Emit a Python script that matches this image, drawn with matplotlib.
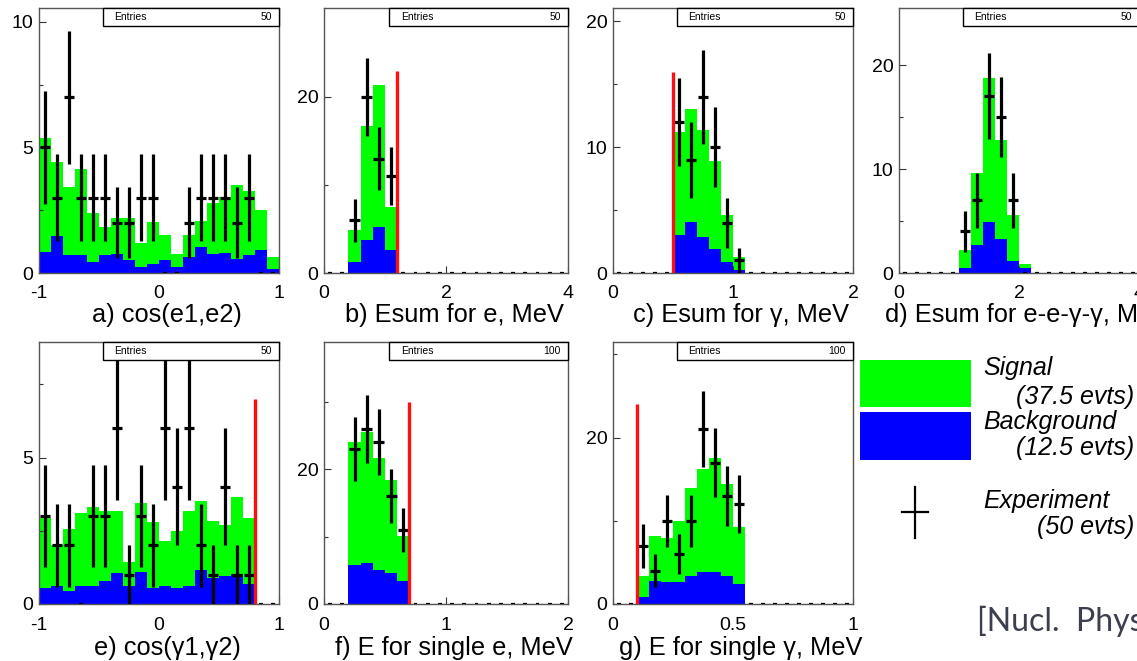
import numpy as np
import matplotlib
matplotlib.use('Agg')
import matplotlib.pyplot as plt
from matplotlib.patches import Rectangle

plt.rcParams['font.family'] = ['Liberation Sans', 'DejaVu Sans']

# ---------------- data ----------------
# a) cos(e1,e2): 20 bins of 0.1 from -1 to 1
a_edges0, a_bw = -1.0, 0.1
a_total = [5.39, 4.42, 3.43, 4.16, 2.39, 1.83, 2.17, 2.17, 1.2, 2.03,
           1.5, 0.77, 1.5, 2.07, 2.79, 3.03, 3.52, 3.27, 2.5, 0.64]
a_bg = [0.84, 1.46, 0.7, 0.7, 0.44, 0.7, 0.77, 0.5, 0.24, 0.37,
        0.5, 0.24, 0.64, 1.04, 0.77, 0.8, 0.57, 0.73, 0.93, 0.17]
a_data = [5, 3, 7, 3, 3, 3, 2, 2, 3, 3, 0, 0, 2, 3, 3, 3, 2, 3, 0, 0]

# b) Esum for e: 20 bins of 0.2 from 0 to 4
b_edges0, b_bw = 0.0, 0.2
b_total = [0, 0, 4.94, 16.65, 21.3, 7.45] + [0] * 14
b_bg = [0, 0, 1.2, 3.8, 5.25, 2.66] + [0] * 14
b_data = [0, 0, 6, 20, 13, 11] + [0] * 14
b_cut, b_cut_h = 1.2, 23

# c) Esum for gamma: 20 bins of 0.1 from 0 to 2
c_edges0, c_bw = 0.0, 0.1
c_total = [0] * 5 + [11.24, 13.04, 11.37, 8.92, 4.6, 1.27] + [0] * 9
c_bg = [0] * 5 + [3.05, 4.06, 2.87, 1.94, 0.88, 0.27] + [0] * 9
c_data = [0] * 5 + [12, 9, 14, 10, 4, 1] + [0] * 9
c_cut, c_cut_h = 0.5, 16

# d) Esum for e-e-g-g: 20 bins of 0.2 from 0 to 4
d_edges0, d_bw = 0.0, 0.2
d_total = [0] * 5 + [2.19, 9.66, 18.8, 12.8, 5.57, 0.9] + [0] * 9
d_bg = [0] * 5 + [0.48, 2.67, 4.93, 3.25, 1.13, 0.48] + [0] * 9
d_data = [0] * 5 + [4, 7, 17, 15, 7, 0] + [0] * 9

# e) cos(g1,g2): 20 bins of 0.1 from -1 to 1
e_edges0, e_bw = -1.0, 0.1
e_total = [2.93, 2.02, 2.57, 3.1, 3.3, 3.18, 3.18, 1.43, 3.44, 2.8,
           2.16, 2.48, 3.16, 3.52, 2.84, 2.7, 3.64, 2.93, 0, 0]
e_bg = [0.55, 0.63, 0.43, 0.6, 0.6, 0.77, 1.06, 0.6, 1.11, 0.55,
        0.6, 0.55, 0.6, 1.17, 0.89, 0.94, 1.02, 0.68, 0, 0]
e_data = [3, 2, 2, 0, 3, 3, 6, 1, 3, 2, 6, 4, 6, 2, 1, 4, 1, 1, 0, 0]
e_cut, e_cut_h = 0.8, 7

# f) E for single e: 20 bins of 0.1 from 0 to 2
f_edges0, f_bw = 0.0, 0.1
f_total = [0, 0, 24.06, 25.6, 21.7, 18.4, 10.1] + [0] * 13
f_bg = [0, 0, 5.84, 6.14, 5.1, 4.65, 3.42] + [0] * 13
f_data = [0, 0, 23, 26, 24, 16, 11] + [0] * 13
f_cut, f_cut_h = 0.7, 30

# g) E for single gamma: 20 bins of 0.05 from 0 to 1
g_edges0, g_bw = 0.0, 0.05
g_total = [0, 0, 3.32, 8.2, 7.92, 9.92, 14.0, 16.24, 17.52, 14.4, 9.28] + [0] * 9
g_bg = [0, 0, 0.8, 2.72, 2.6, 2.64, 3.4, 3.84, 3.8, 3.32, 2.4] + [0] * 9
g_data = [0, 0, 7, 4, 10, 6, 10, 21, 17, 13, 12] + [0] * 9
g_cut, g_cut_h = 0.1, 24

titles = ['a) cos(e1,e2)', 'b) Esum for e, MeV', 'c) Esum for γ, MeV',
          'd) Esum for e-e-γ-γ, MeV', 'e) cos(γ1,γ2)',
          'f) E for single e, MeV', 'g) E for single γ, MeV']
entries = [50, 50, 50, 50, 50, 100, 100]
legend_labels = ['Signal', '(37.5 evts)', 'Background', '(12.5 evts)',
                 'Experiment', '(50 evts)']

# ---------------- layout ----------------
W, H = 1137, 661
fig = plt.figure(figsize=(W / 100, H / 100), dpi=100)


def px_rect(l, t, r, b):
    return [l / W, 1 - b / H, (r - l) / W, (b - t) / H]


GREEN = '#00ff00'
BLUE = '#0000ff'

panels = [
    dict(pos=(39, 8, 279, 273), e0=a_edges0, bw=a_bw, tot=a_total, bg=a_bg, dat=a_data,
         cut=None, xlim=(-1, 1), ylim=(0, 10.55), xt=[-1, 0, 1], xtl=['-1', '0', '1'],
         yt=[0, 5, 10], ym=[2.5, 7.5]),
    dict(pos=(324, 8, 568, 273), e0=b_edges0, bw=b_bw, tot=b_total, bg=b_bg, dat=b_data,
         cut=(b_cut, b_cut_h), xlim=(0, 4), ylim=(0, 30.1), xt=[0, 2, 4], xtl=['0', '2', '4'],
         yt=[0, 20], ym=[10]),
    dict(pos=(613, 8, 853, 273), e0=c_edges0, bw=c_bw, tot=c_total, bg=c_bg, dat=c_data,
         cut=(c_cut, c_cut_h), xlim=(0, 2), ylim=(0, 21.06), xt=[0, 1, 2], xtl=['0', '1', '2'],
         yt=[0, 10, 20], ym=[5, 15]),
    dict(pos=(899, 8, 1139, 273), e0=d_edges0, bw=d_bw, tot=d_total, bg=d_bg, dat=d_data,
         cut=None, xlim=(0, 4), ylim=(0, 25.5), xt=[0, 2, 4], xtl=['0', '2', '4'],
         yt=[0, 10, 20], ym=[5, 15]),
    dict(pos=(39, 342, 279, 604), e0=e_edges0, bw=e_bw, tot=e_total, bg=e_bg, dat=e_data,
         cut=(e_cut, e_cut_h), xlim=(-1, 1), ylim=(0, 8.95), xt=[-1, 0, 1], xtl=['-1', '0', '1'],
         yt=[0, 5], ym=[2.5, 7.5]),
    dict(pos=(324, 342, 568, 604), e0=f_edges0, bw=f_bw, tot=f_total, bg=f_bg, dat=f_data,
         cut=(f_cut, f_cut_h), xlim=(0, 2), ylim=(0, 38.9), xt=[0, 1, 2], xtl=['0', '1', '2'],
         yt=[0, 20], ym=[10, 30]),
    dict(pos=(613, 342, 853, 604), e0=g_edges0, bw=g_bw, tot=g_total, bg=g_bg, dat=g_data,
         cut=(g_cut, g_cut_h), xlim=(0, 1), ylim=(0, 31.5), xt=[0, 0.5, 1], xtl=['0', '0.5', '1'],
         yt=[0, 20], ym=[10, 30]),
]

for i, p in enumerate(panels):
    l, t, r, b = p['pos']
    ax = fig.add_axes(px_rect(l, t, r, b))
    tot = np.array(p['tot'], float)
    bg = np.array(p['bg'], float)
    dat = np.array(p['dat'], float)
    n = len(dat)
    edges = p['e0'] + p['bw'] * np.arange(n + 1)
    centers = 0.5 * (edges[:-1] + edges[1:])

    ax.stairs(tot, edges, fill=True, color=GREEN, lw=0, zorder=1)
    ax.stairs(bg, edges, fill=True, color=BLUE, lw=0, zorder=2)
    ax.axhline(0, color='#4a5fc0', lw=0.8, zorder=2.5)

    nz = dat > 0
    ax.errorbar(centers[nz], dat[nz], xerr=0.45 * p['bw'], yerr=np.sqrt(dat[nz]),
                fmt='none', ecolor='black', elinewidth=2.3, capsize=0, zorder=4)
    ax.errorbar(centers[~nz], dat[~nz], xerr=0.16 * p['bw'],
                fmt='none', ecolor='black', elinewidth=1.6, capsize=0, zorder=4)

    if p['cut'] is not None:
        cx, ch = p['cut']
        ax.plot([cx, cx], [0, ch], color='#ff1010', lw=2.4, zorder=5, solid_capstyle='butt')

    ax.set_xlim(*p['xlim'])
    ax.set_ylim(*p['ylim'])
    ax.set_xticks(p['xt'])
    ax.set_xticklabels(p['xtl'])
    ax.set_yticks(p['yt'])
    ax.set_yticks(p['ym'], minor=True)
    ax.tick_params(axis='both', which='major', direction='in', length=5, width=0.8,
                   labelsize=14, color='#333333')
    ax.tick_params(axis='y', which='minor', direction='in', length=3, width=0.8, color='#333333')
    ax.tick_params(axis='x', which='major', pad=9)
    ax.tick_params(axis='y', which='major', pad=4)
    for s in ax.spines.values():
        s.set_color('#555555')
        s.set_linewidth(1.0)

    # stats box
    bx0 = 0.265
    bh = 18 / (b - t)
    ax.add_patch(Rectangle((bx0, 1 - bh), 1 - bx0, bh, transform=ax.transAxes,
                           facecolor='white', edgecolor='black', lw=1.0, zorder=10,
                           clip_on=False))
    ax.text(bx0 + 0.05, 1 - bh / 2, 'Entries', transform=ax.transAxes, fontsize=7.5,
            va='center', ha='left', zorder=11)
    ax.text(0.97, 1 - bh / 2, str(entries[i]), transform=ax.transAxes, fontsize=7.5,
            va='center', ha='right', zorder=11)

    ty = 315 if t < 100 else 648
    fig.text((l + r) / 2 / W + 8 / W, 1 - ty / H, titles[i], ha='center', va='center',
             fontsize=18.3)

# ---------------- legend overlay ----------------
ov = fig.add_axes([0, 0, 1, 1])
ov.set_xlim(0, W)
ov.set_ylim(H, 0)
ov.axis('off')
ov.patch.set_visible(False)
ov.add_patch(Rectangle((860, 360), 111, 47, facecolor=GREEN, edgecolor='none'))
ov.add_patch(Rectangle((860, 412), 111, 48, facecolor=BLUE, edgecolor='none'))
ov.plot([915, 915], [487, 538], color='black', lw=1.6)
ov.plot([902, 928], [512, 512], color='black', lw=1.6)
lx, rx = 983, 1134
ys = [368, 397, 422, 448, 501, 527]
for k, (lab, yy) in enumerate(zip(legend_labels, ys)):
    if k % 2 == 0:
        ov.text(lx, yy, lab, ha='left', va='center', fontsize=18, style='italic')
    else:
        ov.text(rx, yy, lab, ha='right', va='center', fontsize=18, style='italic')
ov.text(977, 621, '[Nucl.  Phys', ha='left', va='center', fontsize=23,
        color='#3c3f4e', family=['Lato', 'DejaVu Sans'])

fig.savefig('out.png', dpi=100)
